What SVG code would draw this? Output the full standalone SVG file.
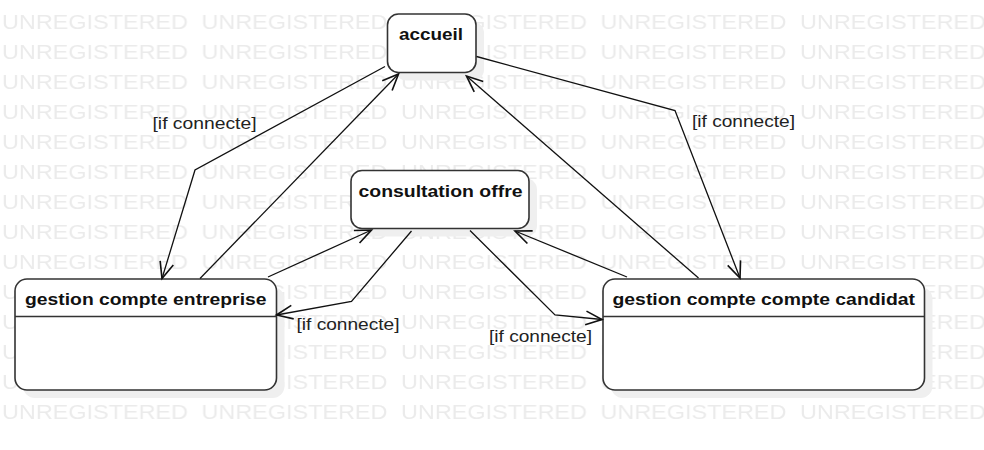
<svg xmlns="http://www.w3.org/2000/svg" width="984" height="450" viewBox="0 0 984 450">
<style>
.wm{font-family:"Liberation Sans",Arial,sans-serif;font-size:21px;fill:#ebebeb}
.box{fill:#fff;stroke:#333;stroke-width:1.6}
.shadow{fill:#efefef}
.div{stroke:#333;stroke-width:1.6}
.nt{font-family:"Liberation Sans",Arial,sans-serif;font-size:17px;font-weight:bold;fill:#111}
.lbl{font-family:"Liberation Sans",Arial,sans-serif;font-size:17px;fill:#222}
.edge{fill:none;stroke:#111;stroke-width:1.3;marker-end:url(#arr)}
</style>
<defs>
<marker id="arr" markerUnits="userSpaceOnUse" markerWidth="20" markerHeight="20" viewBox="-14 -8 16 16" refX="0" refY="0" orient="auto">
<path d="M-13,-5.5 L0,0 L-13,5.5" fill="none" stroke="#111" stroke-width="1.3"/>
</marker>
<pattern id="wmp" patternUnits="userSpaceOnUse" x="0" y="0" width="199.5" height="30">
<text class="wm" x="2" y="29" textLength="186" lengthAdjust="spacingAndGlyphs">UNREGISTERED</text>
</pattern>
</defs>
<rect x="0" y="0" width="984" height="450" fill="#fff"/>
<rect x="0" y="0" width="984" height="422" fill="url(#wmp)"/>

<g id="accueil">
<rect class="shadow" x="395.5" y="22" width="88.5" height="58.5" rx="11"/>
<rect class="box" x="387.5" y="14" width="88.5" height="58.5" rx="11"/>
<text class="nt" x="399" y="40" textLength="64" lengthAdjust="spacingAndGlyphs">accueil</text>
</g>

<g id="consultation-offre">
<rect class="shadow" x="359" y="178.5" width="178" height="58" rx="11"/>
<rect class="box" x="351" y="170.5" width="178" height="58" rx="11"/>
<text class="nt" x="358.5" y="197" textLength="164" lengthAdjust="spacingAndGlyphs">consultation offre</text>
</g>

<g id="gestion-compte-entreprise">
<rect class="shadow" x="23" y="287" width="261.5" height="111" rx="12"/>
<rect class="box" x="15" y="279" width="261.5" height="111" rx="12"/>
<line class="div" x1="15" y1="316.5" x2="276.5" y2="316.5"/>
<text class="nt" x="25" y="305" textLength="241.5" lengthAdjust="spacingAndGlyphs">gestion compte entreprise</text>
</g>

<g id="gestion-compte-candidat">
<rect class="shadow" x="611" y="287" width="321.5" height="111" rx="12"/>
<rect class="box" x="603" y="279" width="321.5" height="111" rx="12"/>
<line class="div" x1="603" y1="316.5" x2="924.5" y2="316.5"/>
<text class="nt" x="612.5" y="305" textLength="302.5" lengthAdjust="spacingAndGlyphs">gestion compte compte candidat</text>
</g>

<g id="connectors">
<path class="edge" d="M385,66.5 L195,170 L162,278.5"/>
<path class="edge" d="M200,278.5 L398.5,74"/>
<path class="edge" d="M268,277 L371.5,230"/>
<path class="edge" d="M411.5,231 L351.5,301.5 L276.5,315"/>
<path class="edge" d="M470,230.5 L555,315 L602,319.5"/>
<path class="edge" d="M627,277 L515,231"/>
<path class="edge" d="M698.5,278 L466.5,76"/>
<path class="edge" d="M476.5,56.5 L675,110.5 L740,278"/>
<text class="lbl" x="152.5" y="129" textLength="104" lengthAdjust="spacingAndGlyphs">[if connecte]</text>
<text class="lbl" x="296.5" y="330" textLength="103" lengthAdjust="spacingAndGlyphs">[if connecte]</text>
<text class="lbl" x="489" y="342" textLength="103" lengthAdjust="spacingAndGlyphs">[if connecte]</text>
<text class="lbl" x="692" y="127" textLength="103" lengthAdjust="spacingAndGlyphs">[if connecte]</text>
</g>
</svg>
